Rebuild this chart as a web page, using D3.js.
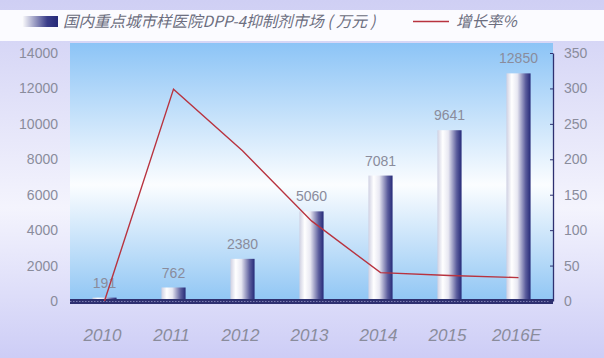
<!DOCTYPE html>
<html><head><meta charset="utf-8">
<script src="https://cdn.jsdelivr.net/npm/d3@7"></script>
<style>body{margin:0;background:#fff}svg{display:block}</style>
</head><body><svg id="c" width="604" height="358"></svg>
<script>
const categories = ["2010","2011","2012","2013","2014","2015","2016E"];
const marketValues = [191, 762, 2380, 5060, 7081, 9641, 12850];
const growthRates = [0, 299, 212, 113, 40, 36, 33];
const leftTicks = [0,2000,4000,6000,8000,10000,12000,14000];
const rightTicks = [0,50,100,150,200,250,300,350];
const seriesNames = ["国内重点城市样医院DPP-4抑制剂市场 ( 万元 )","增长率%"];

const svg = d3.select("#c");
const W = 604, H = 358;
const m = {l:70, r:51, t:53, b:57};
const plotTop = 43;
const defs = svg.append("defs");

const bg = defs.append("linearGradient").attr("id","bg").attr("x1",0).attr("y1",0).attr("x2",0).attr("y2",1);
bg.append("stop").attr("offset","0%").attr("stop-color","#cfcff4");
bg.append("stop").attr("offset","58%").attr("stop-color","#f4f4fd");
bg.append("stop").attr("offset","100%").attr("stop-color","#cdcdf6");
const pg = defs.append("linearGradient").attr("id","pg").attr("x1",0).attr("y1",0).attr("x2",0).attr("y2",1);
pg.append("stop").attr("offset","0%").attr("stop-color","#8cc4f6");
pg.append("stop").attr("offset","55%").attr("stop-color","#fbfdff");
pg.append("stop").attr("offset","100%").attr("stop-color","#90c6f4");
const bar = defs.append("linearGradient").attr("id","bar").attr("x1",0).attr("y1",0).attr("x2",1).attr("y2",0);
bar.append("stop").attr("offset","0%").attr("stop-color","#cfd0e2");
bar.append("stop").attr("offset","22%").attr("stop-color","#ffffff");
bar.append("stop").attr("offset","45%").attr("stop-color","#e8e8f2");
bar.append("stop").attr("offset","80%").attr("stop-color","#5a5c9c");
bar.append("stop").attr("offset","100%").attr("stop-color","#262a78");
const lg = defs.append("linearGradient").attr("id","lg").attr("x1",0).attr("y1",0).attr("x2",1).attr("y2",0);
lg.append("stop").attr("offset","0%").attr("stop-color","#ffffff");
lg.append("stop").attr("offset","70%").attr("stop-color","#3a3d8a");
lg.append("stop").attr("offset","100%").attr("stop-color","#262a78");

svg.append("rect").attr("width",W).attr("height",H).attr("fill","url(#bg)");
svg.append("rect").attr("x",0).attr("y",10).attr("width",W).attr("height",31).attr("fill","#fbfbff");

const x = d3.scaleBand().domain(categories).range([m.l, W-m.r]).paddingInner(0.65).paddingOuter(0.325);
const y = d3.scaleLinear().domain([0,14000]).range([H-m.b, m.t]);
const y2 = d3.scaleLinear().domain([0,350]).range([H-m.b, m.t]);

svg.append("rect").attr("x",m.l).attr("y",plotTop).attr("width",W-m.r-m.l).attr("height",H-m.b-plotTop).attr("fill","url(#pg)");

svg.append("g").selectAll("rect").data(marketValues).join("rect")
  .attr("x",(d,i)=>x(categories[i])).attr("width",x.bandwidth())
  .attr("y",d=>y(d)).attr("height",d=>y(0)-y(d)).attr("fill","url(#bar)");

svg.append("g").selectAll("text").data(marketValues).join("text")
  .attr("x",(d,i)=>x(categories[i])+x.bandwidth()/2)
  .attr("y",d=>y(d)-10)
  .attr("text-anchor","middle").attr("font-family","Liberation Sans, Arial, sans-serif")
  .attr("font-size",14).attr("fill","#8a8c9c").text(d=>d);

const xa = svg.append("g");
xa.append("rect").attr("x",m.l).attr("y",y(0)-2).attr("width",W-m.r-m.l).attr("height",5).attr("fill","#2e3070");
xa.append("line").attr("x1",m.l).attr("x2",W-m.r).attr("y1",y(0)+0.5).attr("y2",y(0)+0.5)
  .attr("stroke","#7a7cb0").attr("stroke-width",1).attr("stroke-dasharray","1.5,1.5");

const line = d3.line().x((d,i)=>x(categories[i])+x.bandwidth()/2).y(d=>y2(d));
svg.append("path").datum(growthRates).attr("d",line).attr("fill","none")
  .attr("stroke","#b8333f").attr("stroke-width",1.4);

const la = svg.append("g").attr("transform",`translate(${m.l},0)`)
  .call(d3.axisLeft(y).tickValues(leftTicks).tickFormat(d3.format("d")).tickSize(0).tickPadding(12));
la.select(".domain").remove();
la.selectAll("text").attr("font-family","Liberation Sans, Arial, sans-serif").attr("font-size",14).attr("fill","#8a8c9c");

const ra = svg.append("g").attr("transform",`translate(${W-m.r},0)`)
  .call(d3.axisRight(y2).tickValues(rightTicks).tickSize(0).tickPadding(11));
ra.select(".domain").attr("stroke","#2e3070").attr("stroke-width",1.3);
ra.selectAll("text").attr("font-family","Liberation Sans, Arial, sans-serif").attr("font-size",14).attr("fill","#8a8c9c");
ra.selectAll(".tick").append("line").attr("x1",-3).attr("x2",0).attr("stroke","#2e3070");

svg.append("g").selectAll("text").data(categories).join("text")
  .attr("x",d=>x(d)+x.bandwidth()/2-2).attr("y",341)
  .attr("text-anchor","middle").attr("font-family","Liberation Sans, Arial, sans-serif")
  .attr("font-style","italic").attr("font-size",17).attr("fill","#8a8c9c").text(d=>d);

const lgG = svg.append("g");
lgG.append("rect").attr("x",22).attr("y",16).attr("width",36).attr("height",11).attr("fill","url(#lg)");
lgG.append("text").attr("x",63).attr("y",27).attr("font-family","Noto Sans CJK SC, sans-serif")
  .attr("font-style","italic").attr("font-size",15.5).attr("fill","#6c6e80").text(seriesNames[0]);
lgG.append("line").attr("x1",413).attr("x2",449).attr("y1",21.5).attr("y2",21.5).attr("stroke","#b8333f").attr("stroke-width",1.6);
lgG.append("text").attr("x",456).attr("y",27).attr("font-family","Noto Sans CJK SC, sans-serif")
  .attr("font-style","italic").attr("font-size",15.5).attr("fill","#6c6e80").text(seriesNames[1]);
</script></body></html>
